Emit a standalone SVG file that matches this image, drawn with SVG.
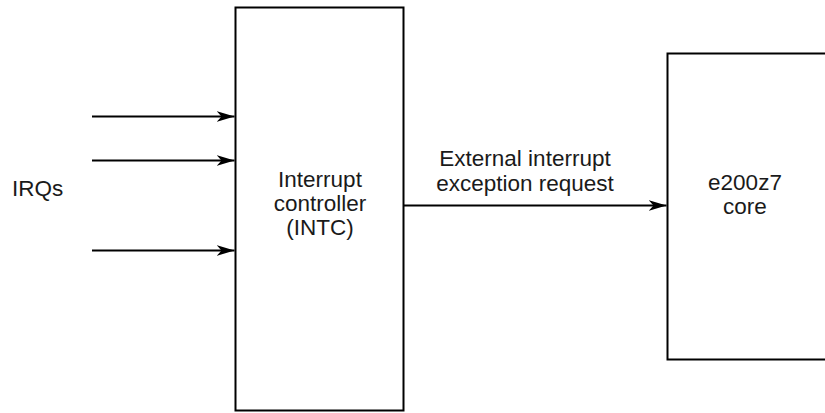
<svg xmlns="http://www.w3.org/2000/svg" width="825" height="413" viewBox="0 0 825 413">
<style>
.box{fill:#fff;stroke:#000;stroke-width:2}
.ln{stroke:#000;stroke-width:2;fill:none}
text{font-family:"Liberation Sans",Arial,sans-serif;font-size:22.5px;fill:#1a1a1a}
.c{text-anchor:middle}
</style>
<defs>
<marker id="ah" viewBox="0 0 18 11" refX="18" refY="5.5" markerWidth="18" markerHeight="11" markerUnits="userSpaceOnUse" orient="auto">
<path d="M0,0 L18,5.5 L0,11 L5,5.5 Z" fill="#000"/>
</marker>
</defs>
<rect width="825" height="413" fill="#fff"/>
<g id="intc">
<rect class="box" x="235.5" y="7.5" width="168" height="403"/>
<text class="c" x="320" y="187">Interrupt</text>
<text class="c" x="320" y="211">controller</text>
<text class="c" x="320" y="235">(INTC)</text>
</g>
<g id="core">
<rect class="box" x="667.5" y="53.5" width="170" height="306"/>
<text class="c" x="745" y="190">e200z7</text>
<text class="c" x="745" y="214">core</text>
</g>
<g id="irqs">
<text x="12" y="196">IRQs</text>
</g>
<g id="connectors">
<line class="ln" x1="92" y1="116.5" x2="234.5" y2="116.5" marker-end="url(#ah)"/>
<line class="ln" x1="92" y1="160.5" x2="234.5" y2="160.5" marker-end="url(#ah)"/>
<line class="ln" x1="92" y1="250.5" x2="234.5" y2="250.5" marker-end="url(#ah)"/>
<line class="ln" x1="403.5" y1="205.5" x2="666.5" y2="205.5" marker-end="url(#ah)"/>
<text class="c" x="525" y="166">External interrupt</text>
<text class="c" x="525" y="191">exception request</text>
</g>
</svg>
